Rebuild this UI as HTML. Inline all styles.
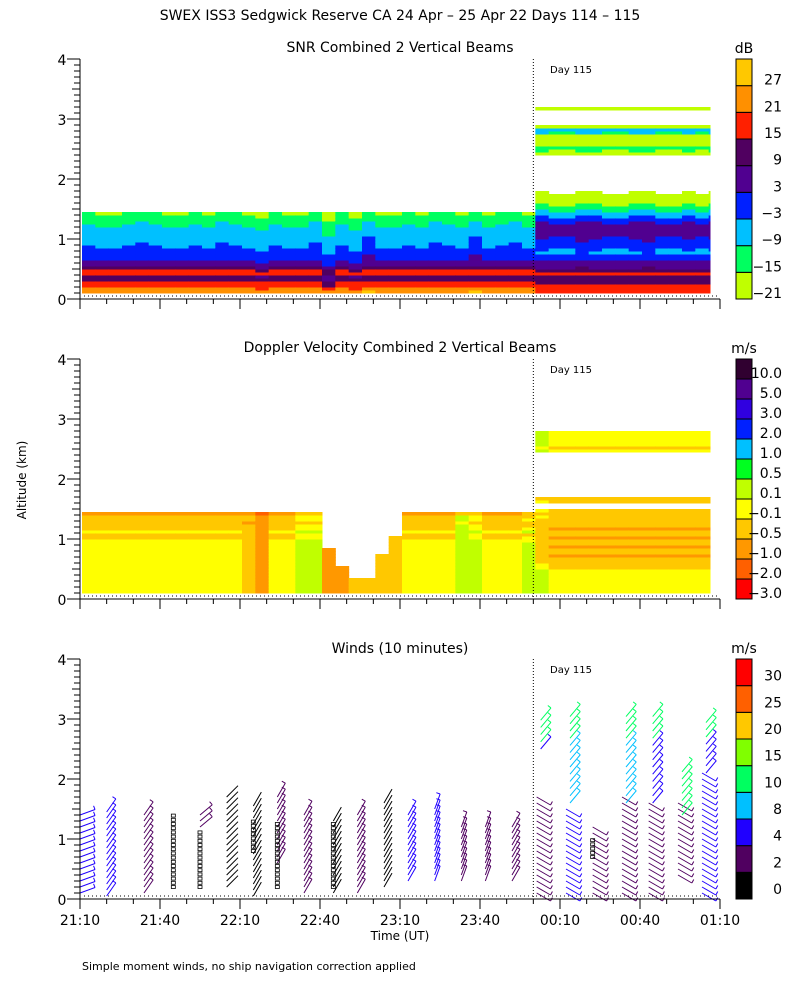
<!DOCTYPE html>
<html><head><meta charset="utf-8"><style>
body{margin:0;background:#fff}
svg text{font-family:"DejaVu Sans","Liberation Sans",sans-serif;fill:#000}
</style></head><body>
<svg id="chart" width="800" height="1000" viewBox="0 0 800 1000" xmlns="http://www.w3.org/2000/svg">
<rect width="800" height="1000" fill="#fff"/>
<text x="400" y="20" font-size="14" text-anchor="middle">SWEX ISS3 Sedgwick Reserve CA  24 Apr – 25 Apr 22 Days 114 – 115</text>
<text x="400" y="52" font-size="14" text-anchor="middle">SNR Combined 2 Vertical Beams</text>
<text x="400" y="352" font-size="14" text-anchor="middle">Doppler Velocity Combined 2 Vertical Beams</text>
<text x="400" y="653" font-size="14" text-anchor="middle">Winds (10 minutes)</text>
<text x="26" y="480" font-size="12" text-anchor="middle" transform="rotate(-90 26 480)">Altitude (km)</text>
<text x="400" y="940" font-size="12" text-anchor="middle">Time (UT)</text>
<text x="82" y="970" font-size="11">Simple moment winds, no ship navigation correction applied</text>
<g id="layer"></g>
</svg>
<script>
// ---- shared axis data ----
const timeTickLabels = ["21:10","21:40","22:10","22:40","23:10","23:40","00:10","00:40","01:10"];
const altTickLabels = ["0","1","2","3","4"];
const dayChangeMinute = 170;
// ---- SNR data ----
const gridMinutes = [0,5,10,15,20,25,30,35,40,45,50,55,60,65,70,75,80,85,90,95,100,105,110,115,120,125,130,135,140,145,150,155,160,165,170,175,180,185,190,195,200,205,210,215,220,225,230,235];
const snrDay114Profile = [24,22,17,17,11,10,17,16,10,5,4,0,0,-1,-2,-4,-5,-6,-6,-7,-7,-8,-10,-11,-13,-14,-16];
const snrDay115Profile = [17,16,16,12,10,11,16,10,7,5,4,0,-2,-5,-4,-2,0,1,2,4,5,5,4,2,-1,-4,-7,-10,-13,-16,-18,-19,-20,-22,-25,-30,-30,-30,-30,-30,-30,-30,-30,-30,-30,-30,-20,-16,-14,-19,-18,-20,-19,-10,-8,-19,-30,-30,-30,-30,-30,-20,-30,-30,-30];
const snrColumnOffset = [1,0,-1,1,2,1,0,-1,1,0,2,1,0,-2,1,0,-1,2,-3,1,-2,3,0,-1,1,0,2,1,0,3,-1,1,2,0,1,-1,0,2,1,-1,0,1,2,0,-1,1,0,1];
// ---- Doppler data ----
const dopDay114Profile = [0,0,0,0,0,0,0,0,0,0,0,0,0,0,0,0,0,-0.05,-0.2,-0.3,0.05,-0.2,-0.3,-0.4,-0.2,-0.3,-0.6];
const dopDay115Profile = [0,0,0,0,0,0,0,0,-0.2,-0.3,-0.4,-0.4,-0.6,-0.4,-0.4,-0.6,-0.4,-0.4,-0.6,-0.4,-0.4,-0.6,-0.4,-0.4,-0.4,-0.3,-0.4,-0.3,null,null,-0.3,-0.4,null,null,null,null,null,null,null,null,null,null,null,null,null,null,null,-0.05,-0.3,0,0,0,0,0.05,null,null,null,null,null,null,null,null,null,null,null];
const dopColumnOffset = [0,0,0,0,0,0,0,0,0,0,0,0,-0.2,-0.6,0,0,0.3,0.2,-0.7,-0.6,-0.5,-0.4,-0.3,-0.2,0,0,0,0,0.4,0.2,0,0,0,0.15,0.2,0,0,0,0,0,0,0,0,0,0,0,0,0];
const dopColumnTop = [1.4,1.4,1.4,1.4,1.4,1.4,1.4,1.4,1.4,1.4,1.4,1.4,1.4,1.4,1.4,1.4,1.4,1.4,0.8,0.5,0.3,0.3,0.7,1.0,1.4,1.4,1.4,1.4,1.4,1.4,1.4,1.45,1.5,1.5,3.3,3.3,3.3,3.3,3.3,3.3,3.3,3.3,3.3,3.3,3.3,3.3,3.3,3.3];
// ---- Winds data ----
const windMinutes = [0,10,24,35,45,55,65,74,84,95,104,114,123,133,143,152,162,172,183,193,204,214,225,234];
const windLowBottom = [0.1,0.05,0.1,null,1.2,0.2,0.05,0.6,0.1,0.1,0.1,0.2,0.3,0.3,0.3,0.3,0.3,0.1,0.1,0.1,0.1,0.1,0.4,0.1];
const windLowTop = [1.45,1.45,1.45,null,1.45,1.7,1.6,1.7,1.4,1.3,1.45,1.65,1.45,1.5,1.2,1.2,1.2,1.7,1.5,1.2,1.7,1.6,1.6,2.1];
const windLowDir = [20,55,55,0,40,45,60,60,60,60,60,60,60,70,70,70,60,-30,-30,-30,-30,-30,-30,-30];
const windLowSpeed = [4,5,3,0,3,1.5,1.5,3,2,1.5,2,1.5,4,5,3,3,3,3,4,3,3,3,3,5];
const windUpBottom = [null,null,null,null,null,null,null,null,null,null,null,null,null,null,null,null,null,2.5,1.6,null,1.6,1.6,1.4,2.1];
const windUpTop = [null,null,null,null,null,null,null,null,null,null,null,null,null,null,null,null,null,3.0,3.1,null,3.1,3.1,2.2,3.0];
const windUpSpeed = [0,0,0,0,0,0,0,0,0,0,0,0,0,0,0,0,0,6,9,0,9,6,10,7];
const windSquareBottom = [null,null,null,0.2,0.2,null,0.8,0.2,null,0.2,null,null,null,null,null,null,null,null,null,0.7,null,null,null,null];
const windSquareTop = [null,null,null,1.45,1.15,null,1.3,1.3,null,1.3,null,null,null,null,null,null,null,null,null,1.0,null,null,null,null];
// ---- colorbar data ----
const snrLevels = [-21,-15,-9,-3,3,9,15,21,27];
const snrColors = ["#c0ff00","#00ff60","#00c0ff","#0020ff","#500090","#500060","#ff2000","#ff9000","#ffc800"];
const dopLabels = ["-3.0","-2.0","-1.0","-0.5","-0.1","0.1","0.5","1.0","2.0","3.0","5.0","10.0"];
const dopColors = ["#ff0000","#ff6000","#ff9800","#ffc800","#ffff00","#c0ff00","#00ff20","#00c0ff","#0020ff","#3000e0","#500090","#300030"];
const windLevels = [0,2,4,8,10,15,20,25,30];
const windColors = ["#000000","#500060","#2000ff","#00c0ff","#00ff60","#80ff00","#ffc800","#ff6000","#ff0000"];

const NS="http://www.w3.org/2000/svg";
const layer=document.getElementById('layer');
function mk(tag,attrs,parent){const e=document.createElementNS(NS,tag);for(const k in attrs)e.setAttribute(k,attrs[k]);(parent||layer).appendChild(e);return e;}
const X0=80,X1=720,TMAX=240;
const panelTops=[59,359,659];
function xs(m){return X0+(X1-X0)*m/TMAX;}
function ys(p,a){return panelTops[p]+240-a*60;}
function colorFor(v,levels,colors){if(v<levels[0])return null;let c=colors[0];for(let i=0;i<levels.length;i++)if(v>=levels[i])c=colors[i];return c;}

function heat(p,prof114,prof115,offs,tops,levels,colors,name){
  const g=mk('g',{});
  
  
  gridMinutes.forEach((m,ci)=>{
    const day115=m>=dayChangeMinute;
    const prof=day115?prof115:prof114;
    const top=tops?tops[ci]:(day115?3.3:(m>=150?1.48:1.42));
    for(let r=0;r<prof.length;r++){
      const a=0.1+r*0.05;
      if(a>top+0.001)break;
      let v=prof[r];
      if(v===null)continue;
      v=v+offs[ci];
      const c=colorFor(v,levels,colors);
      if(!c)continue;
      const w=(ci<gridMinutes.length-1?xs(gridMinutes[ci+1]):xs(235.5))-xs(m);
      const rc=mk('rect',{x:xs(m)+2,y:ys(p,a+0.05),width:w+0.5,height:3.5,fill:c},g);
      
      
    }
  });
}
heat(0,snrDay114Profile,snrDay115Profile,snrColumnOffset,null,snrLevels,snrColors,'snr-heatmap');
heat(1,dopDay114Profile,dopDay115Profile,dopColumnOffset,dopColumnTop,[-99,-2.0,-1.0,-0.5,-0.1,0.1,0.5,1.0,2.0,3.0,5.0,10.0],dopColors,'doppler-heatmap');

function barb(x,a,dir,spd,g){
  const c=colorFor(spd,windLevels,windColors)||"#000";
  const rad=dir*Math.PI/180,L=16;
  const y=ys(2,a);
  const x2=x+L*Math.cos(rad),y2=y-L*Math.sin(rad);
  const l=mk('line',{x1:x,y1:y,x2:x2,y2:y2,stroke:c,'stroke-width':1},g);
  
  
  if(spd>=2){const f=mk('line',{x1:x2,y1:y2,x2:x2+4*Math.cos(rad+1.6),y2:y2-4*Math.sin(rad+1.6),stroke:c,'stroke-width':1},g);
    
    }
}
const wg=mk('g',{});


windMinutes.forEach((m,i)=>{
  const x=xs(m)+(windLowDir[i]<0?-2:0);
  if(windLowBottom[i]!==null)for(let a=windLowBottom[i];a<=windLowTop[i]+0.001;a+=0.1)barb(x,a,windLowDir[i],windLowSpeed[i],wg);
  if(windUpBottom[i]!==null)for(let a=windUpBottom[i];a<=windUpTop[i]+0.001;a+=0.12)barb(x+4,a,50,windUpSpeed[i]+(a>2.6?4:0),wg);
  if(windSquareBottom[i]!==null)for(let a=windSquareBottom[i];a<=windSquareTop[i]+0.001;a+=0.07){
    const s=mk('rect',{x:x-2,y:ys(2,a)-1.5,width:4,height:3,fill:'none',stroke:'#000','stroke-width':0.8},wg);
    
    
  }
});

for(let p=0;p<3;p++){
  const top=panelTops[p],bot=top+240;
  const ax=mk('g',{stroke:'#000','stroke-width':1,fill:'none'});
  
  
  mk('line',{x1:X0,y1:top,x2:X0,y2:bot+10},ax);
  mk('line',{x1:X0,y1:bot,x2:X1,y2:bot},ax);
  for(let k=0;k<=40;k++){const y=ys(p,k*0.1);const len=k%10===0?13:(k%5===0?8:6);mk('line',{x1:X0-len,y1:y,x2:X0,y2:y},ax);}
  for(let k=0;k<=24;k++){const x=xs(k*10);const len=k%3===0?10:5;mk('line',{x1:x,y1:bot,x2:x,y2:bot+len},ax);}
  altTickLabels.forEach((t,i)=>{const tx=mk('text',{x:62,y:ys(p,i)+6,'font-size':14,'text-anchor':'middle'});tx.textContent=t;
    
    });
  const dl=mk('line',{x1:xs(dayChangeMinute),y1:top,x2:xs(dayChangeMinute),y2:bot,stroke:'#000','stroke-dasharray':'1,2'});
  
  
  const gl=mk('line',{x1:X0+4,y1:bot-3,x2:X1,y2:bot-3,stroke:'#000','stroke-dasharray':'1,3'});
  
  
  const dt=mk('text',{x:550,y:top+14,'font-size':10});dt.textContent='Day 115';
  
  
}
timeTickLabels.forEach((t,i)=>{const tx=mk('text',{x:xs(i*30),y:925,'font-size':14,'text-anchor':'middle'});tx.textContent=t;
  
  });

function cbar(p,labels,colors,unit,name,mid){
  const top=panelTops[p],n=colors.length,h=240/n;
  const g=mk('g',{});
  
  
  const u=mk('text',{x:744,y:top-6,'font-size':14,'text-anchor':'middle'},g);u.textContent=unit;
  for(let i=0;i<n;i++){
    const y=top+240-(i+1)*h;
    const r=mk('rect',{x:736,y:y,width:16,height:h,fill:colors[i],stroke:'#000','stroke-width':1},g);
    
    
    const t=mk('text',{x:782,y:y+h-(mid?5:1),'font-size':14,'text-anchor':'end'},g);t.textContent=String(labels[i]).replace('-','−');
    
    
  }
}
cbar(0,snrLevels,snrColors,'dB','snr-colorbar',false);
cbar(1,dopLabels,dopColors,'m/s','doppler-colorbar',false);
cbar(2,windLevels,windColors,'m/s','wind-colorbar',true);
</script>
</body></html>
